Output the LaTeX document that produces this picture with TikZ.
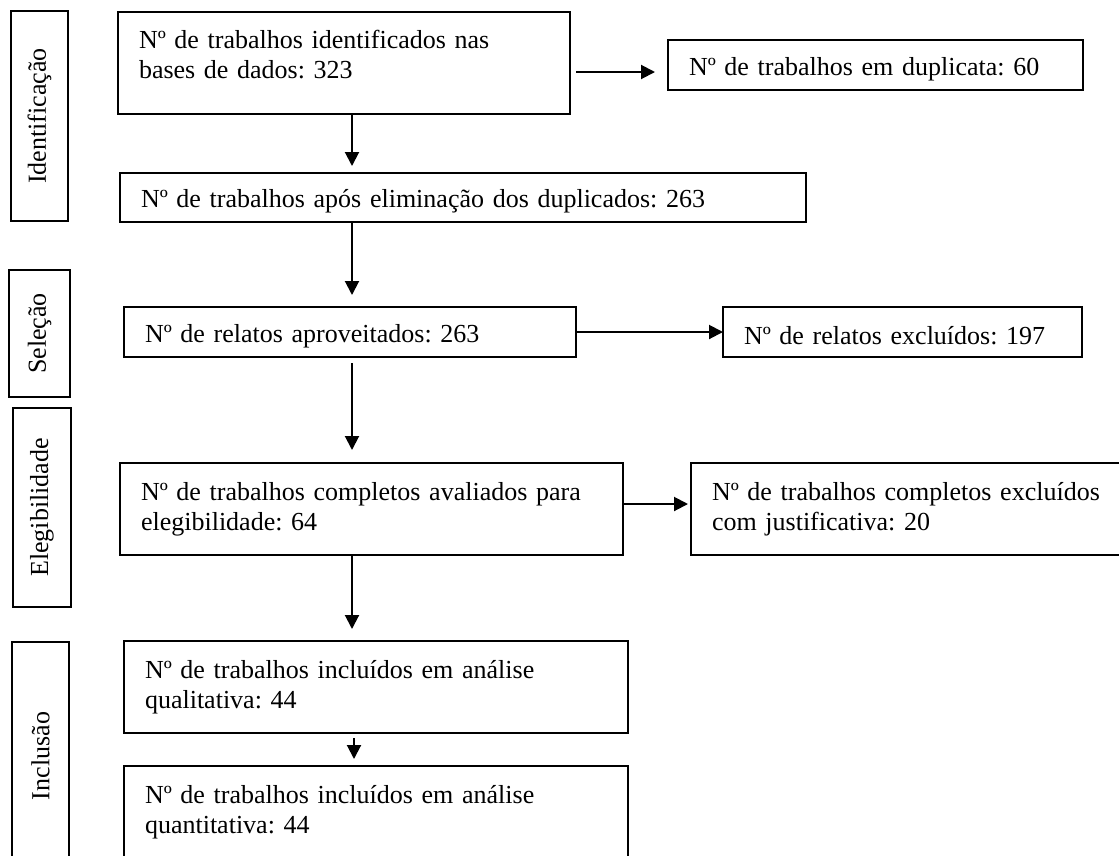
\documentclass[tikz,border=0pt]{standalone}
\usepackage{fontspec}
\setmainfont{Liberation Serif}
\usepackage{tikz}
\usetikzlibrary{arrows.meta}
\usetikzlibrary{positioning}
\frenchspacing

\tikzset{
  caixa/.style={draw, line width=2pt, anchor=north west, align=left,
    inner xsep=21pt, inner ysep=0pt, outer sep=0pt,
    font=\fontsize{26}{30}\selectfont},
  linha/.style={caixa, text height=26pt},
  fase/.style={draw, line width=2pt, rotate=90, inner sep=0pt, outer sep=0pt,
    font=\fontsize{26}{30}\selectfont},
  seta/.style={line width=2pt, arrows = {-Triangle[width=14pt, length=14pt]}}
}

\begin{document}
\begin{tikzpicture}[x=1pt, y=-1pt]
\useasboundingbox (0,0) rectangle (1119,855);
\node[fase, minimum width=210pt, minimum height=57pt] (ident) at (39.5,116) {Identificação};
\node[fase, minimum width=127pt, minimum height=61pt] (selec) at (39.5,333.5) {Seleção};
\node[fase, minimum width=199pt, minimum height=58pt] (elegib) at (42,507.5) {Elegibilidade};
\node[fase, minimum width=228pt, minimum height=57pt] (inclus) at (40.5,756) {Inclusão};
\node[caixa, text width=410pt, minimum height=102pt, text depth=48pt] (trab) at (118,12)
  {Nº de trabalhos identificados nas\\bases de dados: 323};
\node[linha, text width=373pt, minimum height=50pt] (dupl) at (668,40)
  {Nº de trabalhos em duplicata: 60};
\node[linha, text width=644pt, minimum height=49pt] (unicos) at (120,173)
  {Nº de trabalhos após eliminação dos duplicados: 263};
\node[linha, text width=410pt, minimum height=50pt] (relatos) at (124,307)
  {Nº de relatos aproveitados: 263};
\node[linha, text width=317pt, minimum height=50pt] (excl) at (723,307)
  {Nº de relatos excluídos: 197};
\node[caixa, text width=461pt, minimum height=92pt] (completos) at (120,463)
  {Nº de trabalhos completos avaliados para\\elegibilidade: 64};
\node[caixa, text width=392pt, minimum height=92pt] (justif) at (691,463)
  {Nº de trabalhos completos excluídos\\com justificativa: 20};
\node[caixa, text width=462pt, minimum height=92pt] (quali) at (124,641)
  {Nº de trabalhos incluídos em análise\\qualitativa: 44};
\node[caixa, text width=462pt, minimum height=92pt] (quanti) at (124,766)
  {Nº de trabalhos incluídos em análise\\quantitativa: 44};
\coordinate (eixo) at (352,0);
\coordinate (eixob) at (354,0);
\coordinate (nivela) at (0,72);
\coordinate (nivelb) at (0,504);
\draw[seta, shorten >=7pt] (trab.south -| eixo) -- (unicos.north -| eixo);
\draw[seta, shorten >=12pt] (unicos.south -| eixo) -- (relatos.north -| eixo);
\draw[seta, shorten <=6pt, shorten >=13pt] (relatos.south -| eixo) -- (completos.north -| eixo);
\draw[seta, shorten >=12pt] (completos.south -| eixo) -- (quali.north -| eixo);
\draw[seta, shorten <=5pt, shorten >=7pt] (quali.south -| eixob) -- (quanti.north -| eixob);
\draw[seta, shorten <=6pt, shorten >=13pt] (trab.east |- nivela) -- (dupl.west |- nivela);
\draw[seta] (relatos.east) -- (excl.west);
\draw[seta, shorten >=3pt] (completos.east |- nivelb) -- (justif.west |- nivelb);
\end{tikzpicture}
\end{document}
